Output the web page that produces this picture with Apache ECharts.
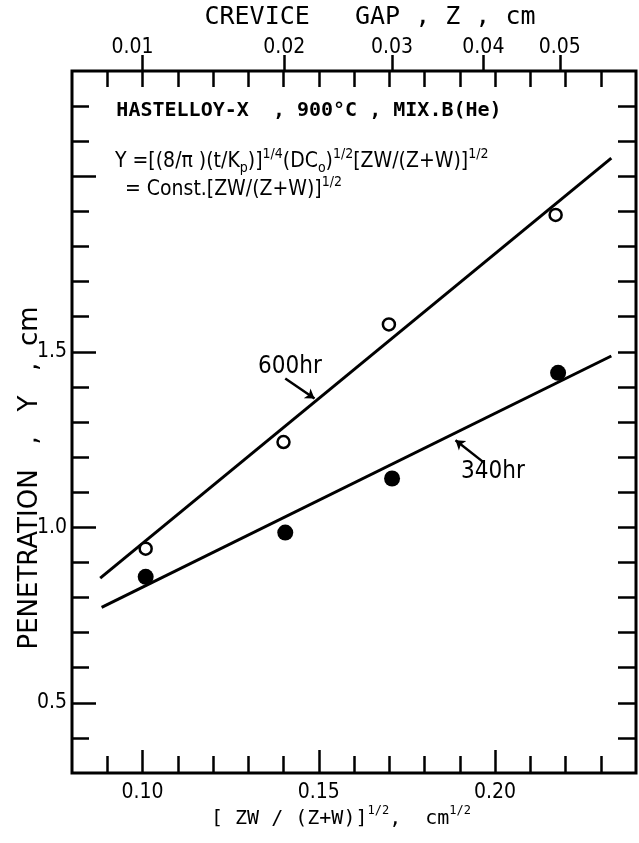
<!DOCTYPE html>
<html>
<head>
<meta charset="utf-8">
<script src="https://cdn.jsdelivr.net/npm/echarts@6/dist/echarts.min.js"></script>
<style>
html, body { margin: 0; padding: 0; background: #fff; }
#chart { width: 639px; height: 843px; }
</style>
</head>
<body>
<div id="chart"></div>
<script>
// bottom axis  [ZW/(Z+W)]^1/2
const xMajor = [0.10, 0.15, 0.20];
const xMinor = [0.09, 0.11, 0.12, 0.13, 0.14, 0.16, 0.17, 0.18, 0.19, 0.21, 0.22, 0.23];
const xAll = [0.09, 0.10, 0.11, 0.12, 0.13, 0.14, 0.15, 0.16, 0.17, 0.18, 0.19, 0.20, 0.21, 0.22, 0.23];
const gapLabels = ['0.01', '0.02', '0.03', '0.04', '0.05'];
const gapPos = [0.1000, 0.1402, 0.1708, 0.1967, 0.2184];
// penetration axis
const yMajor = [0.5, 1.0, 1.5, 2.0];
const yLabels = [0.5, 1.0, 1.5];
const yMinor = [0.4, 0.6, 0.7, 0.8, 0.9, 1.1, 1.2, 1.3, 1.4, 1.6, 1.7, 1.8, 1.9, 2.1, 2.2];
const yAll = [0.4, 0.5, 0.6, 0.7, 0.8, 0.9, 1.0, 1.1, 1.2, 1.3, 1.4, 1.5, 1.6, 1.7, 1.8, 1.9, 2.0, 2.1, 2.2];

// measured points
const x600 = [0.1009, 0.1400, 0.1699, 0.2172];
const y600 = [0.939, 1.243, 1.578, 1.890];
const x340 = [0.1009, 0.1405, 0.1708, 0.2179];
const y340 = [0.859, 0.985, 1.139, 1.440];
// fitted lines
const fit600 = [[0.088, 0.855], [0.233, 2.052]];
const fit340 = [[0.0884, 0.772], [0.233, 1.488]];
// arrows pointing at the lines
const arrow600 = [[0.1405, 1.424], [0.1488, 1.367]];
const arrow340 = [[0.1968, 1.185], [0.1888, 1.248]];

const COND = "'DejaVu Sans Condensed', 'Liberation Sans Narrow', sans-serif";
const MONO = "'DejaVu Sans Mono', 'Liberation Mono', monospace";
const SANS = "'DejaVu Sans', 'Liberation Sans', sans-serif";

function zip(xs, ys) {
    return xs.map((x, i) => [x, ys[i]]);
}

const chart = echarts.init(document.getElementById('chart'));

const tickStyle = { color: '#000', width: 2.5 };
const noLine = { show: false };

function supText(font, size, supSize) {
    return {
        m: { fontFamily: font, fontSize: size, fill: '#000', lineHeight: 26 },
        sp: { fontFamily: font, fontSize: supSize, fill: '#000', height: 10, lineHeight: 10, verticalAlign: 'top' },
        sb: { fontFamily: font, fontSize: supSize, fill: '#000', height: 14, lineHeight: 14, verticalAlign: 'bottom' }
    };
}

const option = {
    animation: false,
    backgroundColor: '#fff',
    grid: {
        show: true,
        left: 72, right: 3, top: 71, bottom: 70,
        borderColor: '#000', borderWidth: 3,
        backgroundColor: 'transparent'
    },
    xAxis: [
        {   // bottom, long ticks + labels
            type: 'value', position: 'bottom', min: 0.08, max: 0.24,
            axisLine: noLine, splitLine: noLine,
            axisTick: { inside: true, length: 23, lineStyle: tickStyle, customValues: xMajor },
            axisLabel: {
                customValues: xMajor, margin: 9, color: '#000',
                fontFamily: COND, fontSize: 21,
                formatter: v => v.toFixed(2)
            }
        },
        {   // bottom, short ticks
            type: 'value', position: 'bottom', min: 0.08, max: 0.24,
            axisLine: noLine, splitLine: noLine, axisLabel: { show: false },
            axisTick: { inside: true, length: 17, lineStyle: tickStyle, customValues: xMinor }
        },
        {   // top, mirrored ticks pointing down
            type: 'value', position: 'top', min: 0.08, max: 0.24,
            axisLine: noLine, splitLine: noLine, axisLabel: { show: false },
            axisTick: { inside: true, length: 16, lineStyle: tickStyle, customValues: xAll }
        },
        {   // top, crevice gap scale
            type: 'value', position: 'top', min: 0.08, max: 0.24,
            axisLine: noLine, splitLine: noLine,
            axisTick: { inside: false, length: 16, lineStyle: tickStyle, customValues: gapPos },
            axisLabel: {
                customValues: gapPos, margin: 13, color: '#000',
                fontFamily: COND, fontSize: 21,
                formatter: v => {
                    const i = gapPos.indexOf(v);
                    return i === 0 ? '{first|' + gapLabels[i] + '}' : gapLabels[i];
                },
                rich: {
                    first: { fontFamily: COND, fontSize: 21, color: '#000', padding: [0, 20, 0, 0] }
                }
            }
        }
    ],
    yAxis: [
        {
            type: 'value', position: 'left', min: 0.3, max: 2.3,
            axisLine: noLine, splitLine: noLine,
            axisTick: { inside: true, length: 24, lineStyle: tickStyle, customValues: yMajor },
            axisLabel: {
                customValues: yLabels, margin: 5, color: '#000',
                fontFamily: COND, fontSize: 21,
                formatter: v => v.toFixed(1)
            }
        },
        {
            type: 'value', position: 'left', min: 0.3, max: 2.3,
            axisLine: noLine, splitLine: noLine, axisLabel: { show: false },
            axisTick: { inside: true, length: 17, lineStyle: tickStyle, customValues: yMinor }
        },
        {
            type: 'value', position: 'right', min: 0.3, max: 2.3,
            axisLine: noLine, splitLine: noLine, axisLabel: { show: false },
            axisTick: { inside: true, length: 18, lineStyle: tickStyle, customValues: yAll }
        }
    ],
    series: [
        {
            name: '600hr fit', type: 'line', data: fit600, showSymbol: false,
            lineStyle: { color: '#000', width: 3 }, z: 2
        },
        {
            name: '340hr fit', type: 'line', data: fit340, showSymbol: false,
            lineStyle: { color: '#000', width: 3 }, z: 2
        },
        {
            name: 'arrows', type: 'lines', coordinateSystem: 'cartesian2d',
            symbol: ['none', 'arrow'], symbolSize: 9,
            lineStyle: { color: '#000', width: 2.5, opacity: 1 },
            data: [{ coords: arrow600 }, { coords: arrow340 }], z: 3
        },
        {
            name: '600hr', type: 'scatter', data: zip(x600, y600),
            symbol: 'circle', symbolSize: 12,
            itemStyle: { color: '#fff', borderColor: '#000', borderWidth: 2.5, opacity: 1 }, z: 4
        },
        {
            name: '340hr', type: 'scatter', data: zip(x340, y340),
            symbol: 'circle', symbolSize: 16,
            itemStyle: { color: '#000', opacity: 1 }, z: 4
        }
    ],
    graphic: [
        {
            type: 'text', x: 370, y: 17,
            style: { text: 'CREVICE   GAP , Z , cm', fontFamily: MONO, fontSize: 25, fill: '#000', align: 'center', verticalAlign: 'middle' }
        },
        {
            type: 'text', x: 309, y: 111,
            style: { text: 'HASTELLOY-X  , 900°C , MIX.B(He)', fontFamily: MONO, fontSize: 20, fontWeight: 'bold', fill: '#000', align: 'center', verticalAlign: 'middle' }
        },
        {
            type: 'text', x: 115, y: 162,
            style: {
                text: '{m|Y =[(8/π )(t/K}{sb|p}{m|)]}{sp|1/4}{m|(DC}{sb|o}{m|)}{sp|1/2}{m|[ZW/(Z+W)]}{sp|1/2}',
                align: 'left', verticalAlign: 'middle',
                rich: supText(COND, 21, 14)
            }
        },
        {
            type: 'text', x: 125, y: 190,
            style: {
                text: '{m|= Const.[ZW/(Z+W)]}{sp|1/2}',
                align: 'left', verticalAlign: 'middle',
                rich: supText(COND, 21, 14)
            }
        },
        {
            type: 'text', x: 290, y: 367,
            style: { text: '600hr', fontFamily: COND, fontSize: 24, fill: '#000', align: 'center', verticalAlign: 'middle' }
        },
        {
            type: 'text', x: 493, y: 472,
            style: { text: '340hr', fontFamily: COND, fontSize: 24, fill: '#000', align: 'center', verticalAlign: 'middle' }
        },
        {
            type: 'text', x: 341, y: 819,
            style: {
                text: '{m|[ ZW / (Z+W)]}{sp|1/2}{m|,  cm}{sp|1/2}',
                align: 'center', verticalAlign: 'middle',
                rich: supText(MONO, 20, 12)
            }
        },
        {
            type: 'text', x: 30, y: 478, rotation: Math.PI / 2,
            style: {
                text: 'PENETRATION   ,   Y   ,  cm',
                fontFamily: SANS, fontSize: 26, fill: '#000', align: 'center', verticalAlign: 'middle'
            }
        }
    ]
};

chart.setOption(option);
</script>
</body>
</html>
